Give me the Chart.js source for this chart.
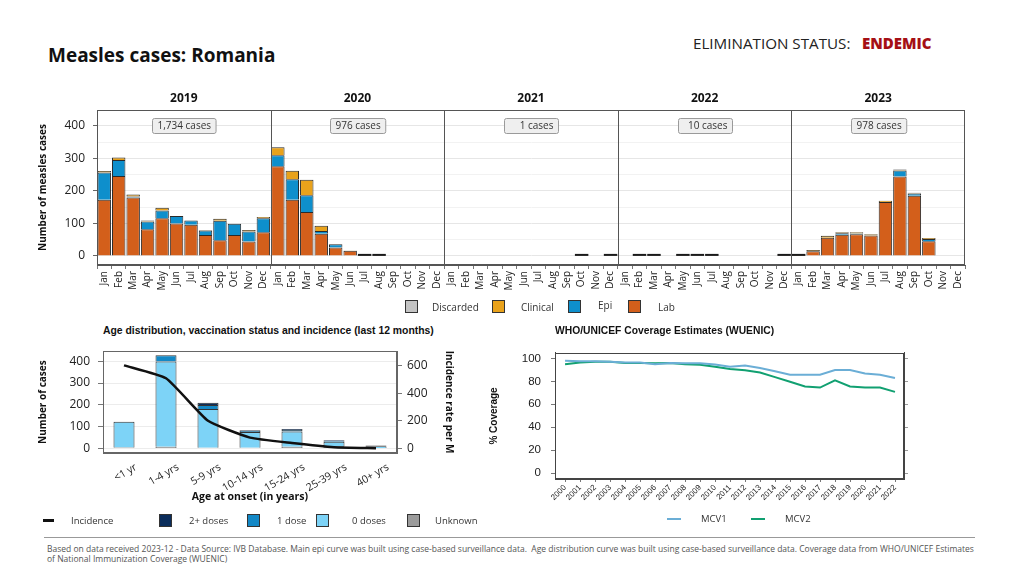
<!DOCTYPE html>
<html><head><meta charset="utf-8">
<script src="https://cdn.jsdelivr.net/npm/chart.js@4/dist/chart.umd.min.js"></script>
<style>
body{margin:0;width:1024px;height:576px;background:#fff;position:relative;overflow:hidden;font-family:"Open Sans",sans-serif;color:#111}
.t{position:absolute;white-space:nowrap;line-height:1}
canvas{position:absolute}
.sw{position:absolute;width:13px;height:13px;border:1px solid #333;box-sizing:border-box}
.ln{position:absolute;height:2px}
</style></head><body>

<div class="t" style="left:48px;top:46px;font-size:19px;font-weight:700">Measles cases: Romania</div>
<div class="t" style="left:693px;top:36px;font-size:15.2px;color:#222">ELIMINATION STATUS:</div>
<div class="t" style="left:862px;top:36px;font-size:15px;font-weight:800;color:#A50F15">ENDEMIC</div>

<canvas id="top" width="960" height="215" style="left:20px;top:85px"></canvas>

<div class="sw" style="left:405px;top:300px;background:#C4C4C4"></div>
<div class="t" style="left:432px;top:302px;font-size:10px;color:#333">Discarded</div>
<div class="sw" style="left:492px;top:300px;background:#E9A21B"></div>
<div class="t" style="left:521px;top:302px;font-size:10px;color:#333">Clinical</div>
<div class="sw" style="left:568px;top:300px;background:#0E8FCC"></div>
<div class="t" style="left:598px;top:300px;font-size:10px;color:#333">Epi</div>
<div class="sw" style="left:628px;top:300px;background:#D35F1B"></div>
<div class="t" style="left:658px;top:302px;font-size:10px;color:#333">Lab</div>

<div class="t" style="left:103px;top:326px;font-size:10.4px;font-weight:700;font-family:'Liberation Sans',Arial,sans-serif">Age distribution, vaccination status and incidence (last 12 months)</div>
<div class="t" style="left:555px;top:326px;font-size:10.3px;font-weight:700;font-family:'Liberation Sans',Arial,sans-serif">WHO/UNICEF Coverage Estimates (WUENIC)</div>

<canvas id="age" width="430" height="172" style="left:30px;top:336px"></canvas>
<canvas id="cov" width="440" height="177" style="left:480px;top:336px"></canvas>

<div class="ln" style="left:43px;top:519px;width:11px;height:3px;background:#111"></div>
<div class="t" style="left:71px;top:516px;font-size:9.5px;color:#333">Incidence</div>
<div class="sw" style="left:159px;top:514px;background:#0B2D5B"></div>
<div class="t" style="left:189px;top:516px;font-size:9.5px;color:#333">2+ doses</div>
<div class="sw" style="left:247px;top:514px;background:#1388C6"></div>
<div class="t" style="left:277px;top:516px;font-size:9.5px;color:#333">1 dose</div>
<div class="sw" style="left:316px;top:514px;background:#7DD3F7"></div>
<div class="t" style="left:352px;top:516px;font-size:9.5px;color:#333">0 doses</div>
<div class="sw" style="left:407px;top:514px;background:#9B9B9B"></div>
<div class="t" style="left:435px;top:516px;font-size:9.5px;color:#333">Unknown</div>

<div class="ln" style="left:667px;top:518px;width:14px;background:#6BAED6"></div>
<div class="t" style="left:701px;top:514px;font-size:9.5px;color:#333">MCV1</div>
<div class="ln" style="left:751px;top:518px;width:14px;background:#11A071"></div>
<div class="t" style="left:785px;top:514px;font-size:9.5px;color:#333">MCV2</div>

<div style="position:absolute;left:44px;top:537px;width:931px;height:1px;background:#999"></div>
<div class="t" style="left:47px;top:545px;font-size:8.5px;color:#555">Based on data received 2023-12 - Data Source: IVB Database. Main epi curve was built using case-based surveillance data.&nbsp; Age distribution curve was built using case-based surveillance data. Coverage data from WHO/UNICEF Estimates</div>
<div class="t" style="left:47px;top:555px;font-size:8.5px;color:#555">of National Immunization Coverage (WUENIC)</div>

<script>
// ---------- DATA ----------
const months = ['Jan','Feb','Mar','Apr','May','Jun','Jul','Aug','Sep','Oct','Nov','Dec'];
const years = ['2019','2020','2021','2022','2023'];
const yearTotals = ['1,734 cases','976 cases','1 cases','10 cases','978 cases'];
const epiYTicks = [0,100,200,300,400];

const labCases = [
  173,246,180,82,116,100,96,64,48,64,44,73,
  276,173,135,68,26,16,1,2,0,0,0,0,
  0,0,0,0,0,0,0,0,0,1,0,0,
  0,1,2,0,2,1,2,0,0,0,0,2,
  4,14,56,65,67,63,166,244,185,45,0,0
];
const epiCases = [
  84,49,3,24,24,23,13,14,60,35,31,43,
  34,63,52,9,10,0,0,0,0,0,0,0,
  0,0,0,0,0,0,0,0,0,0,0,0,
  0,0,0,0,0,0,0,0,0,0,0,0,
  0,0,0,5,2,0,0,19,7,7,0,0
];
const clinicalCases = [
  4,8,6,3,8,0,0,2,6,0,5,4,
  24,26,47,16,0,1,0,0,0,0,0,0,
  0,0,0,0,0,0,0,0,0,0,0,0,
  0,0,0,0,0,0,0,0,0,0,0,0,
  2,4,6,3,4,4,4,3,2,3,0,0
];
const discardedCases = [
  0,0,0,0,0,0,0,0,0,0,0,0,
  0,0,0,0,0,0,0,0,0,0,0,0,
  0,0,0,0,0,0,0,0,0,0,0,1,
  0,0,0,0,0,0,0,0,0,0,0,0,
  0,0,0,0,0,0,0,0,0,0,0,0
];

const ageGroups = ['<1 yr','1-4 yrs','5-9 yrs','10-14 yrs','15-24 yrs','25-39 yrs','40+ yrs'];
const unknownDoses = [4,8,3,3,8,10,0];
const zeroDoses = [118,391,178,72,70,21,10];
const oneDose = [0,28,18,5,7,3,3];
const twoPlusDoses = [0,0,10,3,4,4,0];
const incidence = [604,510,201,79,40,9,2];

const covYears = [2000,2001,2002,2003,2004,2005,2006,2007,2008,2009,2010,2011,2012,2013,2014,2015,2016,2017,2018,2019,2020,2021,2022];
const mcv1 = [98,97.6,97.5,97,96.5,96.5,95,96,95.7,95.7,94.7,92.8,93.9,91.7,88.8,85.8,85.8,85.8,89.9,89.9,86.9,85.8,82.9];
const mcv2 = [95,96.5,97,97,96,96,95.7,96,95,94.4,92.8,90.7,89.6,87.7,83.7,79.7,75.6,74.6,80.8,75.6,74.6,74.6,70.8];

// ---------- STYLE ----------
const F = '"Open Sans", sans-serif';
const A = '"Liberation Sans", Arial, sans-serif';
Chart.defaults.font.family = F;
Chart.defaults.color = '#222';

const frame = {
  id:'frame',
  afterDraw(chart){
    const {ctx, chartArea:a} = chart;
    ctx.save();
    ctx.strokeStyle = chart.options.frameColor || '#555';
    ctx.lineWidth = 1;
    ctx.strokeRect(Math.round(a.left)+0.5, Math.round(a.top)+0.5, Math.round(a.right-a.left)-1, Math.round(a.bottom-a.top)-1);
    ctx.restore();
  }
};

// ---------- TOP EPI CURVE ----------
const catLabels = [];
years.forEach(() => months.forEach(m => catLabels.push(m)));

const panels = {
  id:'panels',
  afterDraw(chart){
    const {ctx, chartArea:a, scales:{x}} = chart;
    ctx.save();
    const edges = [a.left];
    for (let i=1;i<years.length;i++){
      edges.push((x.getPixelForValue(i*12-1)+x.getPixelForValue(i*12))/2);
    }
    edges.push(a.right);
    ctx.strokeStyle = '#555'; ctx.lineWidth = 1;
    for (let i=1;i<years.length;i++){
      const px = Math.round(edges[i])+0.5;
      ctx.beginPath(); ctx.moveTo(px,a.top); ctx.lineTo(px,a.bottom); ctx.stroke();
    }
    for (let i=0;i<years.length;i++){
      const cx = (edges[i]+edges[i+1])/2;
      ctx.fillStyle = '#111';
      ctx.font = 'bold 12px '+F;
      ctx.textAlign='center'; ctx.textBaseline='middle';
      ctx.fillText(years[i], cx, a.top-11);
      ctx.font = '10px '+F;
      const tw = ctx.measureText(yearTotals[i]).width;
      const bw = Math.max(tw+10, 54), bh = 15;
      const bx = Math.round(cx - bw/2)+0.5, by = Math.round(a.top+8)+0.5;
      ctx.beginPath();
      ctx.roundRect(bx, by, bw, bh, 2);
      ctx.fillStyle = '#EFEFEF'; ctx.fill();
      ctx.strokeStyle = '#9a9a9a'; ctx.stroke();
      ctx.fillStyle = '#333'; ctx.textAlign='right';
      ctx.fillText(yearTotals[i], bx+bw-5, by+bh/2+0.5);
    }
    ctx.restore();
  }
};

// very small monthly totals are drawn as a thin dark bar (as in the original)
const thinBars = {
  id:'thinBars',
  afterDatasetsDraw(chart){
    const {ctx, scales:{y}} = chart;
    const meta = chart.getDatasetMeta(0);
    ctx.save(); ctx.fillStyle = '#1a1a1a';
    meta.data.forEach((el,i)=>{
      const total = chart.data.datasets.reduce((s,d)=>s+(d.data[i]||0),0);
      if (total<=0) return;
      const base = y.getPixelForValue(0), top = y.getPixelForValue(total);
      if (base-top < 2.5) ctx.fillRect(el.x - el.width/2, base-2, el.width, 2);
    });
    ctx.restore();
  }
};

const barCommon = {borderColor:'#2a2a2a', borderWidth:1, barPercentage:0.93, categoryPercentage:1.0};
new Chart(document.getElementById('top'), {
  type:'bar',
  data:{labels:catLabels, datasets:[
    {label:'Lab', data:labCases, backgroundColor:'#D35F1B', ...barCommon},
    {label:'Epi', data:epiCases, backgroundColor:'#0E8FCC', ...barCommon},
    {label:'Clinical', data:clinicalCases, backgroundColor:'#E9A21B', ...barCommon},
    {label:'Discarded', data:discardedCases, backgroundColor:'#C4C4C4', ...barCommon}
  ]},
  options:{
    responsive:false, animation:false,
    layout:{padding:{top:25,right:15,left:0,bottom:0}},
    plugins:{legend:{display:false}, tooltip:{enabled:false}},
    scales:{
      x:{stacked:true, offset:true,
         grid:{display:true, drawOnChartArea:false, tickLength:4, tickColor:'#777'},
         border:{color:'#555'},
         ticks:{autoSkip:false, minRotation:90, maxRotation:90, font:{size:10}, color:'#222', padding:2},
         afterFit:s=>{s.height=35;}},
      y:{stacked:true, min:-28, max:449,
         ticks:{stepSize:50, includeBounds:false, font:{size:12}, color:'#222', padding:8,
                callback:v=> epiYTicks.includes(v) ? String(v) : ''},
         grid:{color:c=> (c.tick && c.tick.value%100===0) ? '#e6e6e6' : '#f2f2f2',
               tickLength:4, tickColor:c=> (c.tick && c.tick.value%100===0) ? '#666' : 'rgba(0,0,0,0)'},
         border:{color:'#555'},
         title:{display:true, text:'Number of measles cases', font:{size:10, weight:'bold'}, color:'#111', padding:{top:17,bottom:0}},
         afterFit:s=>{s.width=77;}}
    }
  },
  plugins:[panels, thinBars, frame]
});

// ---------- AGE DISTRIBUTION ----------
const ageBar = {borderColor:'#333', borderWidth:1, barPercentage:0.5, categoryPercentage:1.0, yAxisID:'y', order:2};
new Chart(document.getElementById('age'), {
  type:'bar',
  data:{labels:ageGroups, datasets:[
    {type:'line', label:'Incidence', data:incidence, yAxisID:'y2', borderColor:'#111', borderWidth:2.5, pointRadius:0, tension:0.15, fill:false, order:0},
    {label:'Unknown', data:unknownDoses, backgroundColor:'#9B9B9B', ...ageBar},
    {label:'0 doses', data:zeroDoses, backgroundColor:'#7DD3F7', ...ageBar},
    {label:'1 dose', data:oneDose, backgroundColor:'#1388C6', ...ageBar},
    {label:'2+ doses', data:twoPlusDoses, backgroundColor:'#0B2D5B', ...ageBar}
  ]},
  options:{
    responsive:false, animation:false,
    layout:{padding:{top:6,right:0,left:0,bottom:0}},
    plugins:{legend:{display:false}, tooltip:{enabled:false}},
    scales:{
      x:{stacked:true, offset:true,
         grid:{display:false},
         border:{color:'#666'},
         ticks:{autoSkip:false, minRotation:30, maxRotation:30, font:{size:10.5}, color:'#222', padding:0, labelOffset:12},
         title:{display:true, text:'Age at onset (in years)', font:{size:10.5, weight:'bold'}, color:'#111', padding:{top:0,bottom:5}},
         afterFit:s=>{s.height=55;}},
      y:{stacked:true, min:-21, max:446, position:'left',
         ticks:{stepSize:100, includeBounds:false, font:{size:12}, color:'#222', padding:8},
         grid:{color:'#ececec', tickLength:5, tickColor:'#777'},
         border:{color:'#666'},
         title:{display:true, text:'Number of cases', font:{size:10, weight:'bold'}, color:'#111', padding:{top:7,bottom:0}},
         afterFit:s=>{s.width=73;}},
      y2:{min:-33, max:707, position:'right',
         ticks:{stepSize:200, includeBounds:false, font:{size:12}, color:'#222', padding:5},
         grid:{drawOnChartArea:false, tickLength:5, tickColor:'#777'},
         border:{color:'#666'},
         title:{display:true, text:'Incidence rate per M', font:{size:10, weight:'bold'}, color:'#111', padding:{top:5,bottom:0}},
         afterFit:s=>{s.width=63;}}
    },
    frameColor:'#666'
  },
  plugins:[frame]
});

// ---------- COVERAGE ----------
new Chart(document.getElementById('cov'), {
  type:'line',
  data:{datasets:[
    {label:'MCV1', data:covYears.map((y,i)=>({x:y,y:mcv1[i]})), borderColor:'#6BAED6', borderWidth:2, pointRadius:0, tension:0},
    {label:'MCV2', data:covYears.map((y,i)=>({x:y,y:mcv2[i]})), borderColor:'#11A071', borderWidth:2, pointRadius:0, tension:0}
  ]},
  options:{
    responsive:false, animation:false,
    layout:{padding:{top:6,right:12,left:0,bottom:0}},
    plugins:{legend:{display:false}, tooltip:{enabled:false}},
    scales:{
      x:{type:'linear', min:1999.33, max:2022.6,
         ticks:{stepSize:1, includeBounds:false, autoSkip:false, minRotation:45, maxRotation:45, font:{size:8, family:A}, color:'#222', padding:1,
                callback:v=>String(v)},
         grid:{drawOnChartArea:false, tickLength:3, tickColor:'#777'},
         border:{color:'#444'},
         afterFit:s=>{s.height=34;}},
      y:{min:-5.1, max:104.8,
         ticks:{stepSize:20, includeBounds:false, font:{size:11.5, family:A}, color:'#222', padding:10},
         grid:{drawOnChartArea:false, tickLength:4, tickColor:'#777'},
         border:{color:'#444'},
         title:{display:true, text:'% Coverage', font:{size:10, weight:'bold', family:A}, color:'#111', padding:{top:8,bottom:0}},
         afterFit:s=>{s.width=75;}},
      yr:{position:'right', min:-5.1, max:104.8,
         ticks:{stepSize:20, includeBounds:false, display:false},
         grid:{drawOnChartArea:false, tickLength:4, tickColor:'#999'},
         border:{color:'#444'},
         afterFit:s=>{s.width=4;}}
    },
    frameColor:'#444'
  },
  plugins:[frame]
});
</script>
</body></html>
